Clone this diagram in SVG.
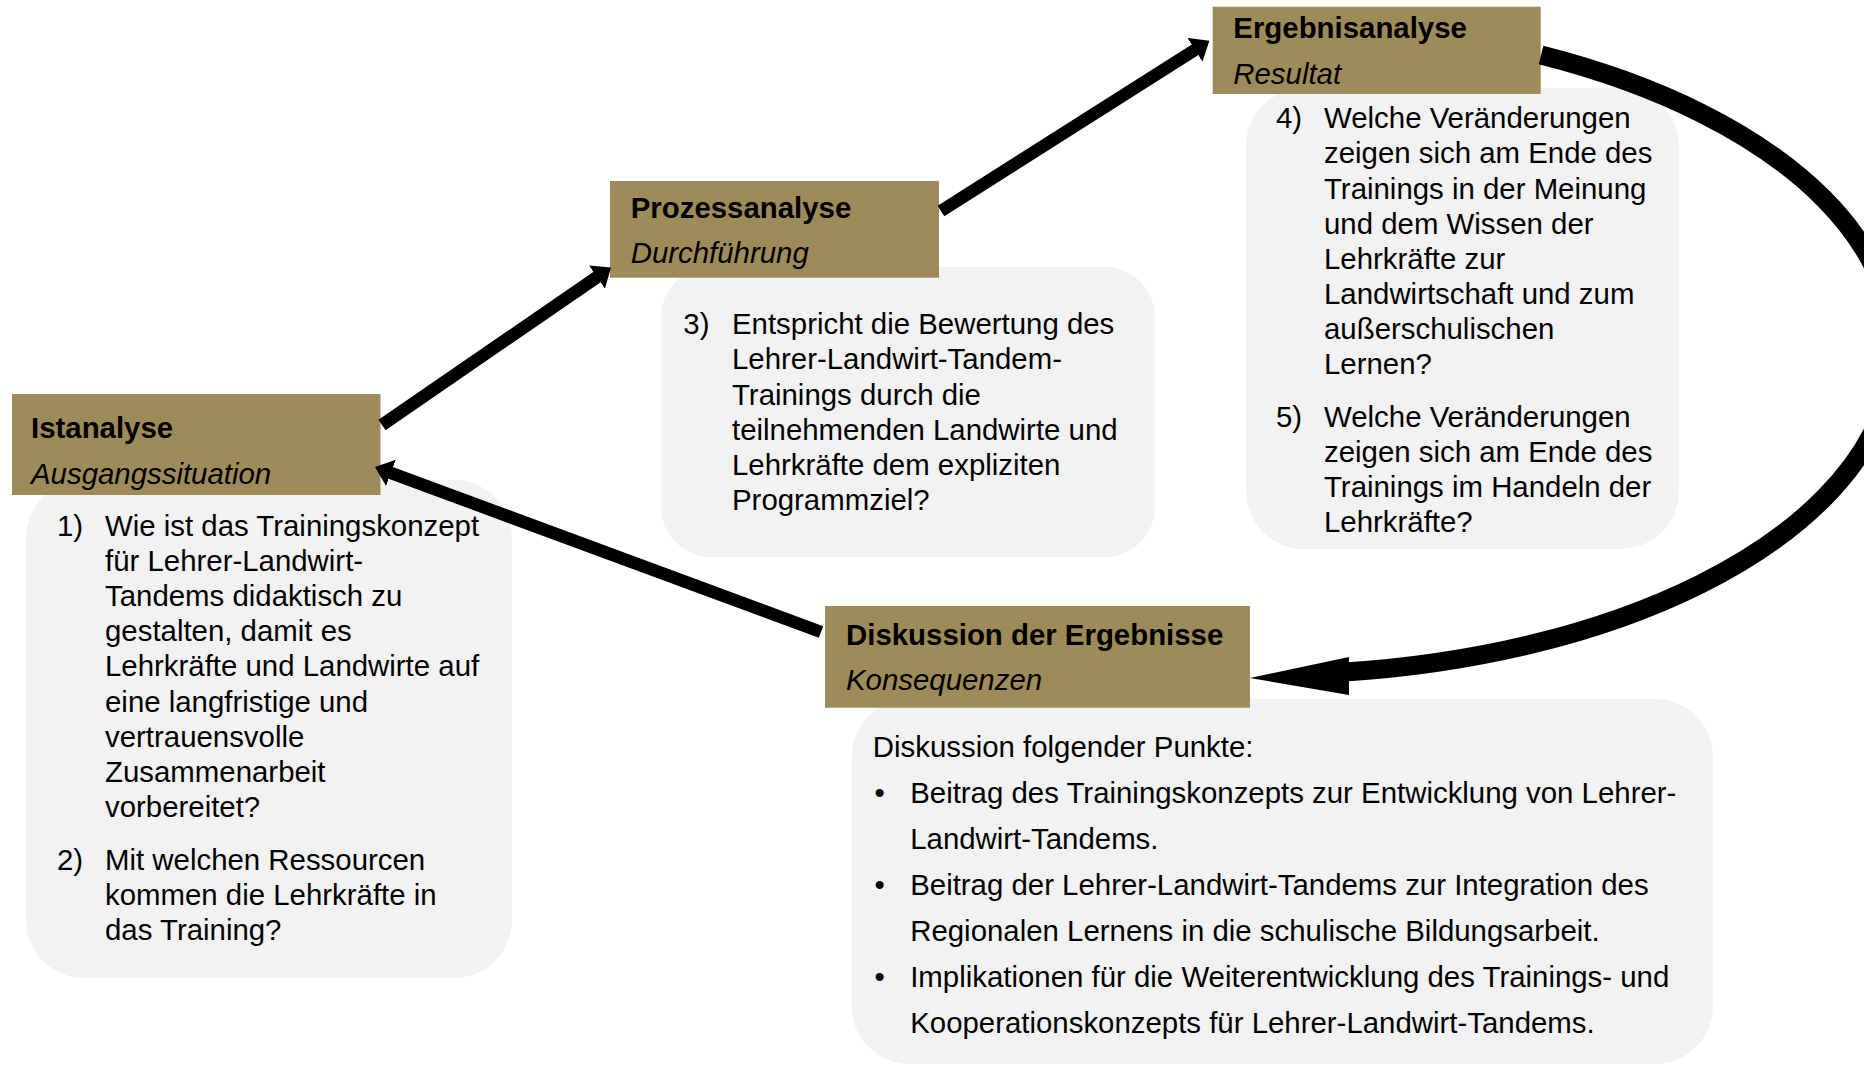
<svg xmlns="http://www.w3.org/2000/svg" width="1864" height="1065" viewBox="0 0 1864 1065">
<style>
.hdr{fill:#9E8B5A}
.box{fill:#F2F2F2}
.t{font-family:"Liberation Sans",Arial,sans-serif;font-size:29.4px;fill:#000}
.b{font-weight:bold}
.i{font-style:italic}
.ln{fill:none;stroke:#000;stroke-width:12.5;stroke-linecap:butt}
</style>
<defs>
<marker id="ah" markerUnits="userSpaceOnUse" viewBox="0 0 17 28" refX="9" refY="14" markerWidth="17" markerHeight="28" orient="auto">
<path d="M0,0 L17,14 L0,28 Z" fill="#000"/>
</marker>
</defs>
<rect width="1864" height="1065" fill="#fff"/>

<g id="istanalyse">
<rect class="box" x="26" y="480" width="486" height="498" rx="58" ry="58"/>
<rect class="hdr" x="12" y="394" width="368.5" height="101"/>
<text class="t b" x="31" y="438">Istanalyse</text>
<text class="t i" x="31" y="484">Ausgangssituation</text>
<text class="t" x="57" y="536">1)</text>
<text class="t" x="105" y="536">Wie ist das Trainingskonzept</text>
<text class="t" x="105" y="571.1">für Lehrer-Landwirt-</text>
<text class="t" x="105" y="606.2">Tandems didaktisch zu</text>
<text class="t" x="105" y="641.3">gestalten, damit es</text>
<text class="t" x="105" y="676.4">Lehrkräfte und Landwirte auf</text>
<text class="t" x="105" y="711.5">eine langfristige und</text>
<text class="t" x="105" y="746.6">vertrauensvolle</text>
<text class="t" x="105" y="781.7">Zusammenarbeit</text>
<text class="t" x="105" y="816.8">vorbereitet?</text>
<text class="t" x="57" y="870">2)</text>
<text class="t" x="105" y="870">Mit welchen Ressourcen</text>
<text class="t" x="105" y="905.1">kommen die Lehrkräfte in</text>
<text class="t" x="105" y="940.2">das Training?</text>
</g>

<g id="prozessanalyse">
<rect class="box" x="661" y="267" width="494" height="290" rx="50" ry="50"/>
<rect class="hdr" x="610" y="181" width="329" height="96.7"/>
<text class="t b" x="630.7" y="218.3">Prozessanalyse</text>
<text class="t i" x="630.7" y="262.7">Durchführung</text>
<text class="t" x="683.3" y="334.3">3)</text>
<text class="t" x="732" y="334.3">Entspricht die Bewertung des</text>
<text class="t" x="732" y="369.4">Lehrer-Landwirt-Tandem-</text>
<text class="t" x="732" y="404.5">Trainings durch die</text>
<text class="t" x="732" y="439.6">teilnehmenden Landwirte und</text>
<text class="t" x="732" y="474.7">Lehrkräfte dem expliziten</text>
<text class="t" x="732" y="509.8">Programmziel?</text>
</g>

<g id="ergebnisanalyse">
<rect class="box" x="1246" y="88" width="433" height="461" rx="58" ry="58"/>
<rect class="hdr" x="1212.7" y="6.7" width="328" height="87.3"/>
<text class="t b" x="1233.3" y="38.3">Ergebnisanalyse</text>
<text class="t i" x="1233.3" y="84.3">Resultat</text>
<text class="t" x="1276" y="128.3">4)</text>
<text class="t" x="1324" y="128.3">Welche Veränderungen</text>
<text class="t" x="1324" y="163.4">zeigen sich am Ende des</text>
<text class="t" x="1324" y="198.5">Trainings in der Meinung</text>
<text class="t" x="1324" y="233.6">und dem Wissen der</text>
<text class="t" x="1324" y="268.7">Lehrkräfte zur</text>
<text class="t" x="1324" y="303.8">Landwirtschaft und zum</text>
<text class="t" x="1324" y="338.9">außerschulischen</text>
<text class="t" x="1324" y="374">Lernen?</text>
<text class="t" x="1276" y="426.5">5)</text>
<text class="t" x="1324" y="426.5">Welche Veränderungen</text>
<text class="t" x="1324" y="461.6">zeigen sich am Ende des</text>
<text class="t" x="1324" y="496.7">Trainings im Handeln der</text>
<text class="t" x="1324" y="531.8">Lehrkräfte?</text>
</g>

<g id="diskussion">
<rect class="box" x="851.6" y="699" width="861.4" height="365" rx="58" ry="58"/>
<rect class="hdr" x="825" y="606" width="425" height="101.7"/>
<text class="t b" x="846" y="645">Diskussion der Ergebnisse</text>
<text class="t i" x="846" y="690">Konsequenzen</text>
<text class="t" x="872.8" y="756.7">Diskussion folgender Punkte:</text>
<text class="t" x="874.6" y="803.3">•</text>
<text class="t" x="910.2" y="803.3">Beitrag des Trainingskonzepts zur Entwicklung von Lehrer-</text>
<text class="t" x="910.2" y="849.3">Landwirt-Tandems.</text>
<text class="t" x="874.6" y="895">•</text>
<text class="t" x="910.2" y="895">Beitrag der Lehrer-Landwirt-Tandems zur Integration des</text>
<text class="t" x="910.2" y="941">Regionalen Lernens in die schulische Bildungsarbeit.</text>
<text class="t" x="874.6" y="986.7">•</text>
<text class="t" x="910.2" y="986.7">Implikationen für die Weiterentwicklung des Trainings- und</text>
<text class="t" x="910.2" y="1032.7">Kooperationskonzepts für Lehrer-Landwirt-Tandems.</text>
</g>

<g id="connectors">
<path class="ln" d="M382,425 L604.4,272" marker-end="url(#ah)"/>
<path class="ln" d="M941,211 L1202.6,45" marker-end="url(#ah)"/>
<path class="ln" d="M821,632 L382.5,469.8" marker-end="url(#ah)"/>
<path d="M1541,55 A625,326 0 0 1 1345,672" fill="none" stroke="#000" stroke-width="19"/>
<path d="M1250,678 L1349,657 L1349,695 Z" fill="#000"/>
</g>
</svg>
